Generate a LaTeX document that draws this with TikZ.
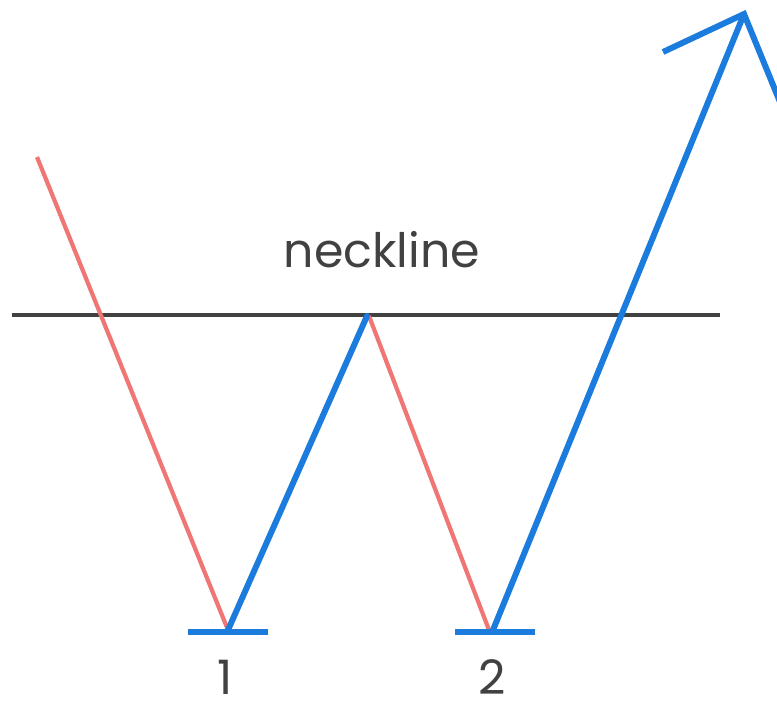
\documentclass[tikz,border=0pt]{standalone}
\usepackage{fontspec}
\setmainfont{Poppins}
\usetikzlibrary{calc}
\definecolor{fallred}{RGB}{240,118,118}
\definecolor{riseblue}{RGB}{28,124,222}
\definecolor{neckgray}{RGB}{65,65,65}
\tikzset{
  fall/.style={draw=fallred,line width=1.2pt},
  rise/.style={draw=riseblue,line width=1.7pt},
  neck/.style={draw=neckgray,line width=1.3pt},
  bottombar/.style={draw=riseblue,line width=1.9pt},
  lbl/.style={text=neckgray,inner sep=0pt,font=\fontsize{13.5}{15}\selectfont}
}

\begin{document}
\begin{tikzpicture}
        \useasboundingbox (0,0) rectangle (7.77,7.07);
        % pattern points
        \coordinate (top) at (0.37,5.50);
        \coordinate (low1) at (2.28,0.77);
        \coordinate (peak) at (3.67,3.91);
        \coordinate (low2) at (4.93,0.77);
        \coordinate (tip) at (7.44,6.93);
        \coordinate (wingl) at (6.63,6.55);
        \coordinate (wingr) at (7.80,6.05);
        \coordinate (neckl) at (0.12,3.92);
        \coordinate (neckr) at (7.20,3.92);
        % neckline
        \draw[neck] (neckl) -- (neckr);
        \node[lbl] (necktext) at (3.82,4.57) {neckline};
        % down moves
        \draw[fall] (top) -- (low1);
        \draw[fall] ($(peak)+(0.02,0)$) -- ($(low2)+(-0.04,0)$);
        % bottoms
        \coordinate (bar1l) at (1.88,0.75);
        \coordinate (bar1r) at (2.68,0.75);
        \coordinate (bar2l) at (4.55,0.75);
        \coordinate (bar2r) at (5.35,0.75);
        \draw[bottombar] (bar1l) -- (bar1r);
        \draw[bottombar] (bar2l) -- (bar2r);
        % up moves
        \draw[rise,line cap=round] (low1) -- (peak);
        \draw[rise,line join=miter] (low2) -- (tip);
        \draw[rise,line join=miter] (wingl) -- (tip) -- (wingr);
        % bottom labels
        \node[lbl] (one) at (2.25,0.30) {1};
        \node[lbl] (two) at (4.92,0.30) {2};
      \end{tikzpicture}
\end{document}
